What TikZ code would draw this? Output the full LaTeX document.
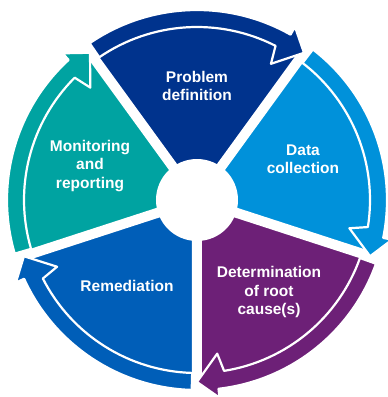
\documentclass[tikz,border=0pt]{standalone}
\usepackage{fontspec}
\setmainfont{Liberation Sans}
\definecolor{kblue}{HTML}{00338D}
\definecolor{klight}{HTML}{0091DA}
\definecolor{kpurple}{HTML}{6D2077}
\definecolor{kmedium}{HTML}{005EB8}
\definecolor{kteal}{HTML}{00A3A1}
\tikzset{phase/.style={text=white,font=\bfseries\fontsize{15.5}{18.5}\selectfont,align=center}}

\begin{document}
\begin{tikzpicture}[x=1pt,y=1pt]
\useasboundingbox (-197,-197) rectangle (191,200);
\def\Ro{190}\def\Ri{173}\def\Rc{41}
\def\phasewedge#1#2{\fill[#1] (0,0) -- ({#2}:\Ri) arc[start angle=#2,end angle=#2-72,radius=\Ri] -- cycle;}
\def\phasearrow#1#2{\filldraw[#1,draw=white,line width=2.2pt,line join=round] ({#2-1.6}:\Ro) arc[start angle=#2-1.6,end angle=#2-65.5,radius=\Ro] -- ({#2-65.5}:199) -- ({#2-72}:182) -- ({#2-64.5}:155) -- ({#2-63}:\Ri) arc[start angle=#2-63,end angle=#2-1.6,radius=\Ri] -- cycle;}
\phasewedge{kblue}{126}
\phasewedge{klight}{54}
\phasewedge{kpurple}{-18}
\phasewedge{kmedium}{-90}
\phasewedge{kteal}{-162}
\draw[white,line width=10pt] (0,0) -- (126:200) (0,0) -- (54:200) (0,0) -- (-18:200) (0,0) -- (-90:200) (0,0) -- (-162:200);
\fill[white] (0,0) circle (\Rc);
\phasearrow{kblue}{126}
\phasearrow{klight}{54}
\phasearrow{kpurple}{-18}
\phasearrow{kmedium}{-90}
\phasearrow{kteal}{-162}
\node[phase] (problem) at (0,114) {Problem\\definition};
\node[phase] (data) at (106,41) {Data\\collection};
\node[phase] (cause) at (72,-92) {Determination\\of root\\cause(s)};
\node[phase] (remedy) at (-70,-86) {Remediation};
\node[phase] (monitor) at (-107,34) {Monitoring\\and\\reporting};
\end{tikzpicture}
\end{document}
